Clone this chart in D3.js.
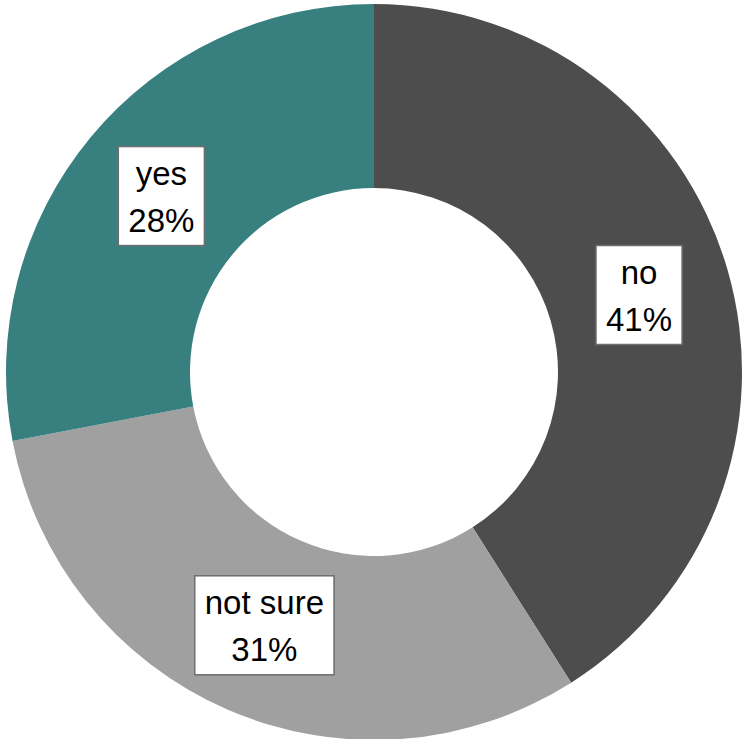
<!DOCTYPE html>
<html>
<head>
<meta charset="utf-8">
<script src="https://cdn.jsdelivr.net/npm/d3@7"></script>
<style>
  html, body { margin: 0; padding: 0; background: #fff; }
  svg { display: block; }
</style>
</head>
<body>
<svg id="chart" width="744" height="739"></svg>
<script>
const categories = ["no", "not sure", "yes"];
const values = [41, 31, 28];
const colors = ["#4d4d4d", "#a0a0a0", "#388080"];

const svg = d3.select("#chart");
const cx = 374, cy = 372, R = 368, r = 184;

const pie = d3.pie().sort(null).value(d => d.value);
const data = pie(categories.map((c, i) => ({ cat: c, value: values[i], color: colors[i] })));

const arc = d3.arc().innerRadius(r).outerRadius(R);
const labelArc = d3.arc().innerRadius((r + R) / 2).outerRadius((r + R) / 2);

const g = svg.append("g").attr("transform", `translate(${cx},${cy})`);

g.selectAll("path.slice")
  .data(data)
  .join("path")
  .attr("class", "slice")
  .attr("d", arc)
  .attr("fill", d => d.data.color);

const labels = g.selectAll("g.label")
  .data(data)
  .join("g")
  .attr("class", "label")
  .attr("transform", d => `translate(${labelArc.centroid(d)})`);

labels.each(function(d) {
  const lg = d3.select(this);
  const rect = lg.append("rect");
  const t = lg.append("text")
    .attr("text-anchor", "middle")
    .attr("font-family", "'Liberation Sans', Arial, sans-serif")
    .attr("font-size", 33)
    .attr("fill", "#000");
  t.append("tspan").attr("x", 0).attr("y", -11).text(d.data.cat);
  t.append("tspan").attr("x", 0).attr("y", 36).text(Math.round(d.data.value) + "%");
  const bb = t.node().getBBox();
  const w = Math.max(bb.width + 20, 80);
  rect.attr("x", -w / 2).attr("y", -49.5).attr("width", w).attr("height", 99)
    .attr("fill", "#fff").attr("stroke", "#6e6e6e").attr("stroke-width", 1.5);
});
</script>
</body>
</html>
